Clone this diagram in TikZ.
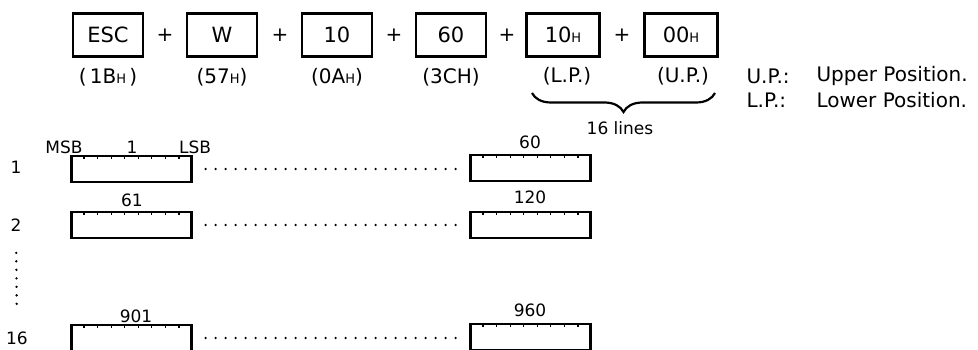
\documentclass[tikz,border=0pt]{standalone}
\usepackage{fontspec}
\setmainfont{DejaVu Sans}
\usetikzlibrary{decorations.pathreplacing,calc}
\newcommand{\hsmall}{{\fontsize{13}{13}\selectfont H}}

\begin{document}
\begin{tikzpicture} [x=1pt,y=-1pt,
  cmd/.style={draw,line width=2.2pt,minimum width=70pt,minimum height=43pt,inner sep=0pt,font=\fontsize{21}{21}\selectfont},
  hex/.style={font=\fontsize{20}{20}\selectfont},
  txt/.style={font=\fontsize{17}{17}\selectfont},
  bitbox/.style={draw,line width=2.2pt,minimum width=120pt,minimum height=26pt,inner sep=0pt},
  dotline/.style={line width=2.6pt,line cap=round,dash pattern=on 0pt off 10pt,shorten <=13pt,shorten >=12pt}]
\useasboundingbox (0,0) rectangle (978,350);

% command sequence
\node[cmd] (esc) at (108,35) {ESC};
\node[cmd] (w) at (222,35) {W};
\node[cmd] (ten) at (337,35) {10};
\node[cmd] (sixty) at (451,35) {60};
\node[cmd,minimum width=73pt] (lp) at (563,35) {10\hsmall};
\node[cmd,minimum width=73pt] (up) at (681,35) {00\hsmall};

\foreach \x in {165,280,394,507,622}
  \node[hex] (plus\x) at (\x,35) {+};

\node[hex] (escl) at (108,77) {(\,1B\hsmall\,)};
\node[hex] (wl) at (222,77) {(57\hsmall)};
\node[hex] (tenl) at (337,77) {(0A\hsmall)};
\node[hex] (sixtyl) at (451,77) {(3CH)};
\node[hex] (lpl) at (567,76) {(L.P.)};
\node[hex] (upl) at (683,76) {(U.P.)};

\coordinate (bl) at (532,93);
\coordinate (br) at (715,93);
\draw [line width=2.2pt,decorate,decoration={brace,mirror,amplitude=19pt}] (bl) -- (br);
\node[txt] (lines) at (620,128) {16 lines};

\node[hex,anchor=west] (upk) at (743,76) {U.P.:};
\node[hex,anchor=west] (upv) at (813,76) {Upper Position.};
\node[hex,anchor=west] (lpk) at (743,100) {L.P.:};
\node[hex,anchor=west] (lpv) at (813,100) {Lower Position.};

% bit image lines
\node[txt] (r1) at (16,167) {1};
\node[txt] (r2) at (16,225) {2};
\node[txt] (r16) at (17,338) {16};

\node[bitbox] (a1) at (131.5,169) {};
\node[bitbox] (b1) at (530.5,168) {};
\node[bitbox] (a2) at (131.5,225) {};
\node[bitbox] (b2) at (530.5,225) {};
\node[bitbox] (a16) at (131.5,338) {};
\node[bitbox] (b16) at (530.5,337) {};

\foreach \b in {a1,b1,a2,b2,a16,b16}
  \foreach \k in {1,...,8}
    \draw [line width=1.2pt] ($(\b.north west)!\k/9!(\b.north east)$) -- ++(0,4);

\node[txt] (msb) at (64,147) {MSB};
\node[txt] (bit1) at (132,147) {1};
\node[txt] (lsb) at (195,147) {LSB};
\node[txt] (c60) at (530,142) {60};
\node[txt] (c61) at (132,200) {61};
\node[txt] (c120) at (530,197) {120};
\node[txt] (c901) at (136,316) {901};
\node[txt] (c960) at (530,310) {960};

\draw [dotline] (a1.east) -- (b1.west |- a1.east);
\draw [dotline] (a2.east) -- (b2.west);
\draw [dotline] (a16.east) -- (b16.west |- a16.east);
\draw [dotline,dash pattern=on 0pt off 8.5pt,shorten <=18pt,shorten >=21pt] (r2) -- (r16);
\end{tikzpicture}
\end{document}
